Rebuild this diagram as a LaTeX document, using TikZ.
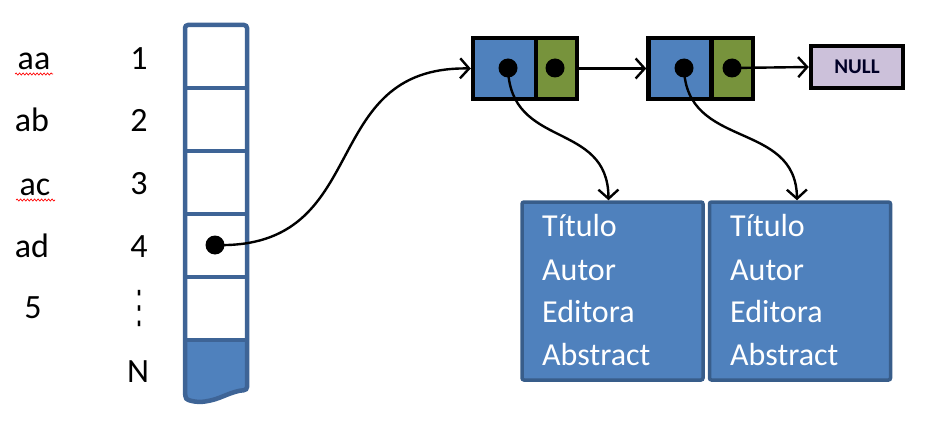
\documentclass[tikz,border=0pt]{standalone}
\usepackage{fontspec}
\setmainfont{Carlito}
\newfontfamily\dejavu{DejaVu Sans}
\usetikzlibrary{arrows.meta,decorations.pathmorphing}
\definecolor{ofblue}{HTML}{4F81BD}
\definecolor{ofborder}{HTML}{385D8A}
\definecolor{colborder}{HTML}{3E6496}
\definecolor{ofgreen}{HTML}{77933C}
\definecolor{oflav}{HTML}{CCC1DA}
\begin{document}
\begin{tikzpicture}[x=1pt,y=-1pt,
  lbl/.style={font=\fontsize{34}{40}\selectfont, inner sep=0, anchor=base},
  cell/.style={minimum width=62pt, minimum height=63pt, inner sep=0},
  llb/.style={draw=black, line width=4.5pt, fill=ofblue, minimum width=63pt, minimum height=61pt, inner sep=0},
  llg/.style={draw=black, line width=4.5pt, fill=ofgreen, minimum width=41pt, minimum height=61pt, inner sep=0},
  dot/.style={circle, fill=black, minimum size=19pt, inner sep=0},
  link/.style={line width=2.4pt, -{Straight Barb[length=9pt,width=20pt,line width=2.4pt]}},
  info/.style={draw=ofborder, fill=ofblue, line width=3.5pt, minimum width=181pt, minimum height=178pt, inner sep=0, rounded corners=2pt},
  infotext/.style={text=white, font=\fontsize{32}{40}\selectfont, anchor=base west, inner sep=0},
  squig/.style={red, line width=0.7pt, decorate, decoration={snake, amplitude=1pt, segment length=3.5pt}},
  divider/.style={colborder, line width=4.5pt}
]
\useasboundingbox (0,0) rectangle (925,422);

% left labels
\node[lbl] (laa) at (34,70) {aa};
\node[lbl] (lab) at (32,132) {ab};
\node[lbl] (lac) at (35,195) {ac};
\node[lbl] (lad) at (32,257) {ad};
\node[lbl] (l5) at (33,318) {5};
\draw[squig] (15,74) -- (53,74);
\draw[squig] (16,200) -- (55,200);

% indices
\node[lbl] (i1) at (139,70) {1};
\node[lbl] (i2) at (139,132) {2};
\node[lbl] (i3) at (139,194) {3};
\node[lbl] (i4) at (139,257) {4};
\node[inner sep=0, font=\dejavu\fontsize{30}{30}\selectfont, xscale=0.8, yscale=1.5] (idots) at (139,309) {⋮};
\node[lbl] (iN) at (138,382) {N};

% column
\fill[ofblue] (185,340) -- (247,340) -- (247,390) .. controls (232,391) and (222,398) .. (208,401) .. controls (196,403) and (187,400) .. (185,396) -- cycle;
\draw[colborder, line width=4.5pt, rounded corners=3pt] (185,25) -- (247,25) -- (247,390) .. controls (232,391) and (222,398) .. (208,401) .. controls (196,403) and (187,400) .. (185,396) -- cycle;
\node[cell] (c1) at (216,56.5) {};
\node[cell] (c2) at (216,119.5) {};
\node[cell] (c3) at (216,182.5) {};
\node[cell] (c4) at (216,245.5) {};
\node[cell] (c5) at (216,308.5) {};
\foreach \c in {c1,c2,c3,c4,c5}
  \draw[divider] (\c.south west) -- (\c.south east);

\node[dot] (p) at (215,245) {};

% linked list
\node[llb] (n1b) at (504.5,68.5) {};
\node[llg] (n1g) at (556.5,68.5) {};
\node[llb] (n2b) at (680,68.5) {};
\node[llg] (n2g) at (732.5,68.5) {};
\node[draw=black, line width=4.5pt, fill=oflav, minimum width=92pt, minimum height=42pt, inner sep=0,
      font=\bfseries\fontsize{21}{21}\selectfont, text=black!85!blue] (null) at (857,67) {NULL};

\node[dot] (d1) at (508,68) {};
\node[dot] (d1g) at (555,68) {};
\node[dot] (d2) at (684,68) {};
\node[dot] (d2g) at (732,68) {};

% info boxes
\node[info] (b1) at (612.5,291) {};
\node[info] (b2) at (800,291) {};
\foreach \b/\x in {b1/542,b2/730}{
  \node[infotext] (\b t1) at (\x,236) {Título};
  \node[infotext] (\b t2) at (\x,280) {Autor};
  \node[infotext] (\b t3) at (\x,322) {Editora};
  \node[infotext] (\b t4) at (\x,365) {Abstract};
}

% connectors
\draw[link] (p.center) .. controls (375,250) and (315,66) .. (n1b.west);
\draw[link] (n1g.east) -- (n2b.west);
\draw[link] (d2g.center) -- (null.west);
\draw[link] (d1.center) .. controls (510,150) and (608,120) .. ([xshift=-4pt]b1.north);
\draw[link] (d2.center) .. controls (686,150) and (796,120) .. ([xshift=-3pt]b2.north);
\end{tikzpicture}
\end{document}
